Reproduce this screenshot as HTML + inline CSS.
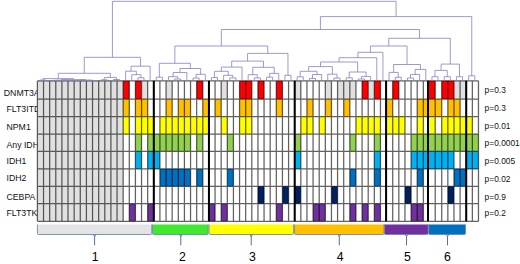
<!DOCTYPE html><html><head><meta charset="utf-8"><style>html,body{margin:0;padding:0;background:#fff;}body{width:520px;height:264px;overflow:hidden;position:relative;}svg{position:absolute;left:0;top:0;}text{font-family:"Liberation Sans",sans-serif;}</style></head><body>
<svg width="520" height="264" viewBox="0 0 520 264">
<g font-size="9.7" fill="#111">
<text x="0" y="0" transform="translate(3.8,95.50) scale(0.9,1)">DNMT3A</text>
<text x="0" y="0" transform="translate(6.5,111.90) scale(0.9,1)">FLT3ITD</text>
<text x="0" y="0" transform="translate(6.5,129.55) scale(0.9,1)">NPM1</text>
<text x="0" y="0" transform="translate(6.5,147.75) scale(0.9,1)">Any IDH</text>
<text x="0" y="0" transform="translate(6.5,164.30) scale(0.9,1)">IDH1</text>
<text x="0" y="0" transform="translate(6.5,180.70) scale(0.9,1)">IDH2</text>
<text x="0" y="0" transform="translate(6.5,199.50) scale(0.9,1)">CEBPA</text>
<text x="0" y="0" transform="translate(6.5,216.30) scale(0.9,1)">FLT3TKD</text>
</g>
<rect x="37.40" y="80.80" width="441.07" height="140.50" fill="#fff"/>
<rect x="37.40" y="80.80" width="85.76" height="18.30" fill="#e0e0e0"/>
<rect x="123.16" y="80.80" width="6.13" height="18.30" fill="#ff0000"/>
<rect x="135.42" y="80.80" width="6.13" height="18.30" fill="#ff0000"/>
<rect x="141.54" y="80.80" width="6.13" height="18.30" fill="#e0e0e0"/>
<rect x="166.05" y="80.80" width="6.13" height="18.30" fill="#e0e0e0"/>
<rect x="196.68" y="80.80" width="6.13" height="18.30" fill="#ff0000"/>
<rect x="221.18" y="80.80" width="6.13" height="18.30" fill="#e0e0e0"/>
<rect x="239.56" y="80.80" width="12.25" height="18.30" fill="#ff0000"/>
<rect x="257.94" y="80.80" width="6.13" height="18.30" fill="#ff0000"/>
<rect x="276.31" y="80.80" width="6.13" height="18.30" fill="#ff0000"/>
<rect x="294.69" y="80.80" width="6.13" height="18.30" fill="#e0e0e0"/>
<rect x="325.32" y="80.80" width="6.13" height="18.30" fill="#e0e0e0"/>
<rect x="337.57" y="80.80" width="18.38" height="18.30" fill="#e0e0e0"/>
<rect x="362.08" y="80.80" width="6.13" height="18.30" fill="#ff0000"/>
<rect x="368.20" y="80.80" width="6.13" height="18.30" fill="#e0e0e0"/>
<rect x="374.33" y="80.80" width="6.13" height="18.30" fill="#ff0000"/>
<rect x="392.71" y="80.80" width="6.13" height="18.30" fill="#ff0000"/>
<rect x="428.00" y="80.80" width="7.20" height="18.30" fill="#ff0000"/>
<rect x="441.72" y="80.80" width="12.25" height="18.30" fill="#ff0000"/>
<rect x="453.97" y="80.80" width="12.25" height="18.30" fill="#e0e0e0"/>
<rect x="37.40" y="99.10" width="85.76" height="17.50" fill="#e0e0e0"/>
<rect x="123.16" y="99.10" width="6.13" height="17.50" fill="#ffc000"/>
<rect x="135.42" y="99.10" width="12.25" height="17.50" fill="#ffc000"/>
<rect x="166.05" y="99.10" width="6.13" height="17.50" fill="#ffc000"/>
<rect x="178.30" y="99.10" width="12.25" height="17.50" fill="#ffc000"/>
<rect x="202.80" y="99.10" width="6.13" height="17.50" fill="#ffc000"/>
<rect x="215.05" y="99.10" width="6.13" height="17.50" fill="#ffc000"/>
<rect x="239.56" y="99.10" width="12.25" height="17.50" fill="#ffc000"/>
<rect x="276.31" y="99.10" width="6.13" height="17.50" fill="#ffc000"/>
<rect x="306.94" y="99.10" width="6.13" height="17.50" fill="#ffc000"/>
<rect x="325.32" y="99.10" width="6.13" height="17.50" fill="#ffc000"/>
<rect x="343.70" y="99.10" width="6.13" height="17.50" fill="#ffc000"/>
<rect x="386.10" y="99.10" width="6.61" height="17.50" fill="#ffc000"/>
<rect x="417.21" y="99.10" width="24.50" height="17.50" fill="#ffc000"/>
<rect x="447.84" y="99.10" width="12.25" height="17.50" fill="#ffc000"/>
<rect x="37.40" y="116.60" width="85.76" height="17.45" fill="#e0e0e0"/>
<rect x="123.16" y="116.60" width="6.13" height="17.45" fill="#ffff00"/>
<rect x="135.42" y="116.60" width="18.38" height="17.45" fill="#ffff00"/>
<rect x="159.92" y="116.60" width="49.01" height="17.45" fill="#ffff00"/>
<rect x="221.18" y="116.60" width="6.13" height="17.45" fill="#ffff00"/>
<rect x="239.56" y="116.60" width="12.25" height="17.45" fill="#ffff00"/>
<rect x="300.82" y="116.60" width="12.25" height="17.45" fill="#ffff00"/>
<rect x="319.20" y="116.60" width="6.13" height="17.45" fill="#ffff00"/>
<rect x="355.95" y="116.60" width="24.50" height="17.45" fill="#ffff00"/>
<rect x="386.10" y="116.60" width="18.86" height="17.45" fill="#ffff00"/>
<rect x="417.21" y="116.60" width="6.13" height="17.45" fill="#ffff00"/>
<rect x="428.00" y="116.60" width="7.20" height="17.45" fill="#ffff00"/>
<rect x="441.72" y="116.60" width="30.63" height="17.45" fill="#ffff00"/>
<rect x="37.40" y="134.05" width="85.76" height="17.25" fill="#e0e0e0"/>
<rect x="135.42" y="134.05" width="6.13" height="17.25" fill="#92d050"/>
<rect x="147.67" y="134.05" width="42.88" height="17.25" fill="#92d050"/>
<rect x="196.68" y="134.05" width="6.13" height="17.25" fill="#92d050"/>
<rect x="227.31" y="134.05" width="6.13" height="17.25" fill="#92d050"/>
<rect x="294.69" y="134.05" width="6.13" height="17.25" fill="#92d050"/>
<rect x="349.83" y="134.05" width="6.13" height="17.25" fill="#92d050"/>
<rect x="374.33" y="134.05" width="6.13" height="17.25" fill="#92d050"/>
<rect x="411.09" y="134.05" width="67.39" height="17.25" fill="#92d050"/>
<rect x="37.40" y="151.30" width="85.76" height="17.60" fill="#e0e0e0"/>
<rect x="135.42" y="151.30" width="6.13" height="17.60" fill="#00b0f0"/>
<rect x="147.67" y="151.30" width="12.25" height="17.60" fill="#00b0f0"/>
<rect x="294.69" y="151.30" width="6.13" height="17.60" fill="#00b0f0"/>
<rect x="374.33" y="151.30" width="6.13" height="17.60" fill="#00b0f0"/>
<rect x="411.09" y="151.30" width="42.88" height="17.60" fill="#00b0f0"/>
<rect x="466.22" y="151.30" width="12.25" height="17.60" fill="#00b0f0"/>
<rect x="37.40" y="168.90" width="85.76" height="17.40" fill="#e0e0e0"/>
<rect x="159.92" y="168.90" width="30.63" height="17.40" fill="#0070c0"/>
<rect x="196.68" y="168.90" width="6.13" height="17.40" fill="#0070c0"/>
<rect x="227.31" y="168.90" width="6.13" height="17.40" fill="#0070c0"/>
<rect x="349.83" y="168.90" width="6.13" height="17.40" fill="#0070c0"/>
<rect x="374.33" y="168.90" width="6.13" height="17.40" fill="#0070c0"/>
<rect x="417.21" y="168.90" width="6.13" height="17.40" fill="#0070c0"/>
<rect x="453.97" y="168.90" width="12.25" height="17.40" fill="#0070c0"/>
<rect x="37.40" y="186.30" width="85.76" height="17.40" fill="#e0e0e0"/>
<rect x="257.94" y="186.30" width="6.13" height="17.40" fill="#002060"/>
<rect x="282.44" y="186.30" width="6.13" height="17.40" fill="#002060"/>
<rect x="294.69" y="186.30" width="6.13" height="17.40" fill="#002060"/>
<rect x="331.45" y="186.30" width="6.13" height="17.40" fill="#002060"/>
<rect x="404.96" y="186.30" width="6.13" height="17.40" fill="#002060"/>
<rect x="447.84" y="186.30" width="6.13" height="17.40" fill="#002060"/>
<rect x="37.40" y="203.70" width="85.76" height="17.60" fill="#e0e0e0"/>
<rect x="129.29" y="203.70" width="6.13" height="17.60" fill="#7030a0"/>
<rect x="147.67" y="203.70" width="6.13" height="17.60" fill="#7030a0"/>
<rect x="208.93" y="203.70" width="6.13" height="17.60" fill="#7030a0"/>
<rect x="221.18" y="203.70" width="6.13" height="17.60" fill="#7030a0"/>
<rect x="276.31" y="203.70" width="6.13" height="17.60" fill="#7030a0"/>
<rect x="313.07" y="203.70" width="12.25" height="17.60" fill="#7030a0"/>
<rect x="349.83" y="203.70" width="6.13" height="17.60" fill="#7030a0"/>
<rect x="362.08" y="203.70" width="6.13" height="17.60" fill="#7030a0"/>
<rect x="374.33" y="203.70" width="6.13" height="17.60" fill="#7030a0"/>
<rect x="411.09" y="203.70" width="12.25" height="17.60" fill="#7030a0"/>
<path d="M37.40 80.80V221.30M43.53 80.80V221.30M49.65 80.80V221.30M55.78 80.80V221.30M61.90 80.80V221.30M68.03 80.80V221.30M74.16 80.80V221.30M80.28 80.80V221.30M86.41 80.80V221.30M92.53 80.80V221.30M98.66 80.80V221.30M104.79 80.80V221.30M110.91 80.80V221.30M117.04 80.80V221.30M123.16 80.80V221.30M129.29 80.80V221.30M135.42 80.80V221.30M141.54 80.80V221.30M147.67 80.80V221.30M153.79 80.80V221.30M159.92 80.80V221.30M166.05 80.80V221.30M172.17 80.80V221.30M178.30 80.80V221.30M184.42 80.80V221.30M190.55 80.80V221.30M196.68 80.80V221.30M202.80 80.80V221.30M208.93 80.80V221.30M215.05 80.80V221.30M221.18 80.80V221.30M227.31 80.80V221.30M233.43 80.80V221.30M239.56 80.80V221.30M245.68 80.80V221.30M251.81 80.80V221.30M257.94 80.80V221.30M264.06 80.80V221.30M270.19 80.80V221.30M276.31 80.80V221.30M282.44 80.80V221.30M288.57 80.80V221.30M294.69 80.80V221.30M300.82 80.80V221.30M306.94 80.80V221.30M313.07 80.80V221.30M319.20 80.80V221.30M325.32 80.80V221.30M331.45 80.80V221.30M337.57 80.80V221.30M343.70 80.80V221.30M349.83 80.80V221.30M355.95 80.80V221.30M362.08 80.80V221.30M368.20 80.80V221.30M374.33 80.80V221.30M380.46 80.80V221.30M386.10 80.80V221.30M392.71 80.80V221.30M398.83 80.80V221.30M404.96 80.80V221.30M411.09 80.80V221.30M417.21 80.80V221.30M423.34 80.80V221.30M428.00 80.80V221.30M435.20 80.80V221.30M441.72 80.80V221.30M447.84 80.80V221.30M453.97 80.80V221.30M460.09 80.80V221.30M466.22 80.80V221.30M472.35 80.80V221.30M478.47 80.80V221.30M37.40 80.80H478.47M37.40 99.10H478.47M37.40 116.60H478.47M37.40 134.05H478.47M37.40 151.30H478.47M37.40 168.90H478.47M37.40 186.30H478.47M37.40 203.70H478.47M37.40 221.30H478.47" stroke="#000" stroke-opacity="0.62" stroke-width="1.25" fill="none"/>
<line x1="153.79" y1="80.80" x2="153.79" y2="221.30" stroke="#000" stroke-width="2"/>
<line x1="208.93" y1="80.80" x2="208.93" y2="221.30" stroke="#000" stroke-width="2"/>
<line x1="294.69" y1="80.80" x2="294.69" y2="221.30" stroke="#000" stroke-width="2"/>
<line x1="386.10" y1="80.80" x2="386.10" y2="221.30" stroke="#000" stroke-width="2"/>
<line x1="428.00" y1="80.80" x2="428.00" y2="221.30" stroke="#000" stroke-width="2"/>
<line x1="466.22" y1="80.80" x2="466.22" y2="221.30" stroke="#000" stroke-width="2"/>
<path d="M39.86 80.00H45.99M39.86 80.00V80.80M45.99 80.00V80.80M52.12 80.40H58.24M52.12 80.40V80.80M58.24 80.40V80.80M64.37 80.40H70.49M64.37 80.40V80.80M70.49 80.40V80.80M55.18 80.20H67.43M55.18 80.20V80.40M67.43 80.20V80.40M76.62 80.40H82.75M76.62 80.40V80.80M82.75 80.40V80.80M88.87 80.40H95.00M88.87 80.40V80.80M95.00 80.40V80.80M79.68 80.10H91.93M79.68 80.10V80.40M91.93 80.10V80.40M61.30 79.60H85.81M61.30 79.60V80.20M85.81 79.60V80.10M42.93 78.60H73.56M42.93 78.60V80.00M73.56 78.60V79.60M101.12 79.80H107.25M101.12 79.80V80.80M107.25 79.80V80.80M113.38 79.50H119.50M113.38 79.50V80.80M119.50 79.50V80.80M104.19 77.40H116.44M104.19 77.40V79.80M116.44 77.40V79.50M58.24 73.30H110.31M58.24 73.30V78.60M110.31 73.30V77.40M137.88 77.80H144.01M137.88 77.80V80.80M144.01 77.80V80.80M131.75 74.70H140.94M131.75 74.70V80.80M140.94 74.70V77.80M125.63 71.20H136.35M125.63 71.20V80.80M136.35 71.20V74.70M130.99 66.20H150.13M130.99 66.20V71.20M150.13 66.20V80.80M84.28 57.30H140.56M84.28 57.30V73.30M140.56 57.30V66.20M156.26 77.20H162.38M156.26 77.20V80.80M162.38 77.20V80.80M174.64 79.00H180.76M174.64 79.00V80.80M180.76 79.00V80.80M168.51 76.70H177.70M168.51 76.70V80.80M177.70 76.70V79.00M173.10 72.50H186.89M173.10 72.50V76.70M186.89 72.50V80.80M193.01 78.00H199.14M193.01 78.00V80.80M199.14 78.00V80.80M196.08 74.30H205.27M196.08 74.30V78.00M205.27 74.30V80.80M180.00 68.50H200.67M180.00 68.50V72.50M200.67 68.50V74.30M159.32 63.30H190.33M159.32 63.30V77.20M190.33 63.30V68.50M211.39 77.60H217.52M211.39 77.60V80.80M217.52 77.60V80.80M229.77 77.90H235.90M229.77 77.90V80.80M235.90 77.90V80.80M223.64 75.30H232.83M223.64 75.30V80.80M232.83 75.30V77.90M214.45 71.30H228.24M214.45 71.30V77.60M228.24 71.30V75.30M221.35 67.10H242.02M221.35 67.10V71.30M242.02 67.10V80.80M254.27 77.90H260.40M254.27 77.90V80.80M260.40 77.90V80.80M248.15 74.70H257.34M248.15 74.70V80.80M257.34 74.70V77.90M266.52 77.20H272.65M266.52 77.20V80.80M272.65 77.20V80.80M269.59 73.40H278.78M269.59 73.40V77.20M278.78 73.40V80.80M252.74 67.30H274.18M252.74 67.30V74.70M274.18 67.30V73.40M231.68 61.10H263.46M231.68 61.10V67.10M263.46 61.10V67.30M284.90 75.30H291.03M284.90 75.30V80.80M291.03 75.30V80.80M247.57 53.40H287.97M247.57 53.40V61.10M287.97 53.40V75.30M174.83 46.00H267.77M174.83 46.00V63.30M267.77 46.00V53.40M297.15 76.80H303.28M297.15 76.80V80.80M303.28 76.80V80.80M309.41 78.50H315.53M309.41 78.50V80.80M315.53 78.50V80.80M312.47 74.50H321.66M312.47 74.50V78.50M321.66 74.50V80.80M300.22 71.30H317.06M300.22 71.30V76.80M317.06 71.30V74.50M333.91 78.00H340.04M333.91 78.00V80.80M340.04 78.00V80.80M327.78 74.20H336.97M327.78 74.20V80.80M336.97 74.20V78.00M308.64 66.60H332.38M308.64 66.60V71.30M332.38 66.60V74.20M346.16 77.80H352.29M346.16 77.80V80.80M352.29 77.80V80.80M358.41 79.00H364.54M358.41 79.00V80.80M364.54 79.00V80.80M361.48 76.40H370.67M361.48 76.40V79.00M370.67 76.40V80.80M349.23 72.00H366.07M349.23 72.00V77.80M366.07 72.00V76.40M320.51 62.00H357.65M320.51 62.00V66.60M357.65 62.00V72.00M339.08 57.70H376.79M339.08 57.70V62.00M376.79 57.70V80.80M357.94 52.30H382.92M357.94 52.30V57.70M382.92 52.30V80.80M395.17 77.30H401.30M395.17 77.30V80.80M401.30 77.30V80.80M389.04 72.40H398.23M389.04 72.40V80.80M398.23 72.40V77.30M407.42 78.00H413.55M407.42 78.00V80.80M413.55 78.00V80.80M410.49 74.40H419.67M410.49 74.40V78.00M419.67 74.40V80.80M415.08 69.40H425.80M415.08 69.40V74.40M425.80 69.40V80.80M393.64 64.50H420.44M393.64 64.50V72.40M420.44 64.50V69.40M370.43 46.00H407.04M370.43 46.00V52.30M407.04 46.00V64.50M431.93 76.70H438.05M431.93 76.70V80.80M438.05 76.70V80.80M444.18 76.70H450.30M444.18 76.70V80.80M450.30 76.70V80.80M434.99 70.40H447.24M434.99 70.40V76.70M447.24 70.40V76.70M456.43 76.70H462.56M456.43 76.70V80.80M462.56 76.70V80.80M441.12 64.10H459.49M441.12 64.10V70.40M459.49 64.10V76.70M388.73 38.30H450.30M388.73 38.30V46.00M450.30 38.30V64.10M221.30 29.50H419.52M221.30 29.50V46.00M419.52 29.50V38.30M468.68 75.80H474.81M468.68 75.80V80.80M474.81 75.80V80.80M320.41 16.60H471.75M320.41 16.60V29.50M471.75 16.60V75.80M112.42 1.30H396.08M112.42 1.30V57.30M396.08 1.30V16.60" stroke="#8282c4" stroke-width="0.8" fill="none"/>
<g font-size="8.4" fill="#111">
<text x="484.6" y="92.80">p=0.3</text>
<text x="484.6" y="110.90">p=0.3</text>
<text x="484.6" y="129.00">p=0.01</text>
<text x="484.6" y="145.70">p=0.0001</text>
<text x="484.6" y="164.20">p=0.005</text>
<text x="484.6" y="181.80">p=0.02</text>
<text x="484.6" y="199.80">p=0.9</text>
<text x="484.6" y="216.00">p=0.2</text>
</g>
<path d="M37.40 224.5V233.3Q37.40 234.5 38.60 234.5H150.60Q151.80 234.5 151.80 233.3V224.5Z" fill="#e3e3e6"/>
<path d="M37.40 224.5V233.3Q37.40 234.5 38.60 234.5H150.60Q151.80 234.5 151.80 233.3V224.5" fill="none" stroke="#7088b0" stroke-width="0.9"/>
<path d="M93.40 234.5L94.60 236.7L95.80 234.5M94.60 236.5V245.3" fill="none" stroke="#5a6e9c" stroke-width="1"/>
<text x="95.20" y="260.6" font-size="12.3" text-anchor="middle" fill="#000">1</text>
<path d="M152.40 224.5V233.3Q152.40 234.5 153.60 234.5H206.90Q208.10 234.5 208.10 233.3V224.5Z" fill="#40e830"/>
<path d="M152.40 224.5V233.3Q152.40 234.5 153.60 234.5H206.90Q208.10 234.5 208.10 233.3V224.5" fill="none" stroke="#7088b0" stroke-width="0.9"/>
<path d="M179.60 234.5L180.80 236.7L182.00 234.5M180.80 236.5V245.3" fill="none" stroke="#5a6e9c" stroke-width="1"/>
<text x="182.40" y="260.6" font-size="12.3" text-anchor="middle" fill="#000">2</text>
<path d="M209.00 224.5V233.3Q209.00 234.5 210.20 234.5H292.40Q293.60 234.5 293.60 233.3V224.5Z" fill="#ffff00"/>
<path d="M209.00 224.5V233.3Q209.00 234.5 210.20 234.5H292.40Q293.60 234.5 293.60 233.3V224.5" fill="none" stroke="#7088b0" stroke-width="0.9"/>
<path d="M250.00 234.5L251.20 236.7L252.40 234.5M251.20 236.5V245.3" fill="none" stroke="#5a6e9c" stroke-width="1"/>
<text x="252.30" y="260.6" font-size="12.3" text-anchor="middle" fill="#000">3</text>
<path d="M294.60 224.5V233.3Q294.60 234.5 295.80 234.5H382.80Q384.00 234.5 384.00 233.3V224.5Z" fill="#ffc000"/>
<path d="M294.60 224.5V233.3Q294.60 234.5 295.80 234.5H382.80Q384.00 234.5 384.00 233.3V224.5" fill="none" stroke="#7088b0" stroke-width="0.9"/>
<path d="M338.10 234.5L339.30 236.7L340.50 234.5M339.30 236.5V245.3" fill="none" stroke="#5a6e9c" stroke-width="1"/>
<text x="340.20" y="260.6" font-size="12.3" text-anchor="middle" fill="#000">4</text>
<path d="M384.40 224.5V233.3Q384.40 234.5 385.60 234.5H427.00Q428.20 234.5 428.20 233.3V224.5Z" fill="#7030a0"/>
<path d="M384.40 224.5V233.3Q384.40 234.5 385.60 234.5H427.00Q428.20 234.5 428.20 233.3V224.5" fill="none" stroke="#7088b0" stroke-width="0.9"/>
<path d="M405.30 234.5L406.50 236.7L407.70 234.5M406.50 236.5V245.3" fill="none" stroke="#5a6e9c" stroke-width="1"/>
<text x="407.30" y="260.6" font-size="12.3" text-anchor="middle" fill="#000">5</text>
<path d="M428.70 224.5V233.3Q428.70 234.5 429.90 234.5H464.30Q465.50 234.5 465.50 233.3V224.5Z" fill="#0070c0"/>
<path d="M428.70 224.5V233.3Q428.70 234.5 429.90 234.5H464.30Q465.50 234.5 465.50 233.3V224.5" fill="none" stroke="#7088b0" stroke-width="0.9"/>
<path d="M446.30 234.5L447.50 236.7L448.70 234.5M447.50 236.5V245.3" fill="none" stroke="#5a6e9c" stroke-width="1"/>
<text x="447.50" y="260.6" font-size="12.3" text-anchor="middle" fill="#000">6</text>
</svg></body></html>
